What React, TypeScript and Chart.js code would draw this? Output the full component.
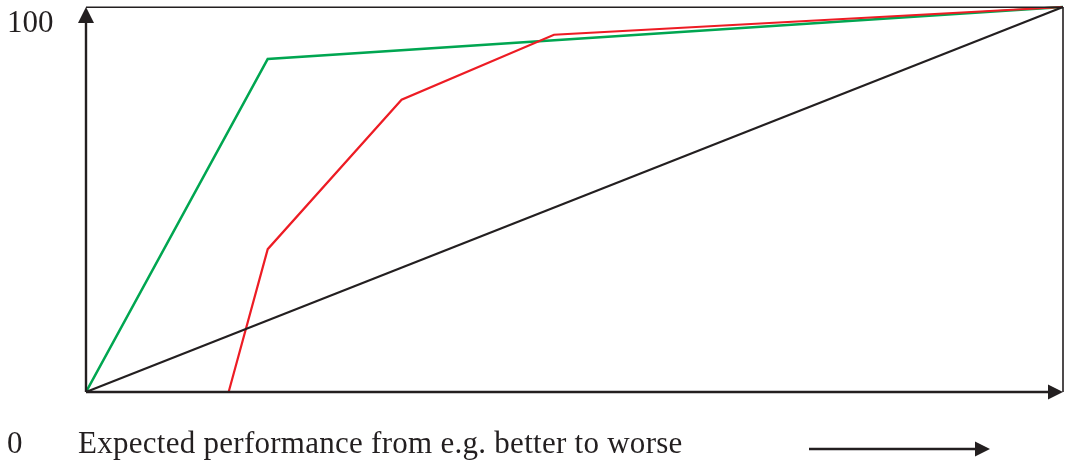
import React, { useEffect, useRef } from "react";
import { Chart, registerables } from "chart.js";

Chart.register(...registerables);

const blackX = [0, 100];
const blackY = [0, 100];
const greenX = [0, 18.6, 100];
const greenY = [0, 86.5, 100];
const redX = [14.6, 18.6, 32.3, 47.9, 100];
const redY = [0, 37.1, 75.9, 92.8, 100];

const yTopLabel = "100";
const yBottomLabel = "0";
const xLabel = "Expected performance from e.g. better to worse";

const INK = "#231f20";
const FONT = "31px 'Liberation Serif', 'Times New Roman', serif";

const pts = (xs: number[], ys: number[]) => xs.map((x, i) => ({ x, y: ys[i] }));

const decorPlugin = {
  id: "decor",
  afterDatasetsDraw(chart: any) {
    const { ctx, chartArea } = chart;
    const { left, right, top, bottom } = chartArea;
    ctx.save();
    ctx.strokeStyle = INK;
    ctx.fillStyle = INK;
    // frame top and right
    ctx.lineWidth = 1.6;
    ctx.beginPath();
    ctx.moveTo(left, top + 0.3);
    ctx.lineTo(right, top + 0.3);
    ctx.moveTo(right, top);
    ctx.lineTo(right, bottom);
    ctx.stroke();
    // axes
    ctx.lineWidth = 2.4;
    ctx.beginPath();
    ctx.moveTo(left, bottom);
    ctx.lineTo(left, top + 14);
    ctx.moveTo(left, bottom);
    ctx.lineTo(right - 14, bottom);
    ctx.stroke();
    // y arrowhead
    ctx.beginPath();
    ctx.moveTo(left, top);
    ctx.lineTo(left - 8, top + 16);
    ctx.lineTo(left + 8, top + 16);
    ctx.closePath();
    ctx.fill();
    // x arrowhead
    ctx.beginPath();
    ctx.moveTo(right, bottom);
    ctx.lineTo(right - 15, bottom - 7.5);
    ctx.lineTo(right - 15, bottom + 7.5);
    ctx.closePath();
    ctx.fill();
    // texts
    ctx.font = FONT;
    ctx.textBaseline = "alphabetic";
    ctx.textAlign = "left";
    try { (ctx as any).letterSpacing = "0px"; } catch (e) {}
    ctx.fillText(yTopLabel, 7, 32);
    ctx.fillText(yBottomLabel, 7, 453);
    try { (ctx as any).letterSpacing = "0.27px"; } catch (e) {}
    ctx.fillText(xLabel, 78, 453);
    try { (ctx as any).letterSpacing = "0px"; } catch (e) {}
    // bottom arrow
    ctx.lineWidth = 2.4;
    ctx.beginPath();
    ctx.moveTo(809, 449);
    ctx.lineTo(976, 449);
    ctx.stroke();
    ctx.beginPath();
    ctx.moveTo(990, 449);
    ctx.lineTo(975, 441.5);
    ctx.lineTo(975, 456.5);
    ctx.closePath();
    ctx.fill();
    ctx.restore();
  },
};

export default function App() {
  const ref = useRef<HTMLCanvasElement | null>(null);
  useEffect(() => {
    document.body.style.margin = "0";
    const canvas = ref.current!;
    const chart = new Chart(canvas, {
      type: "line",
      data: {
        datasets: [
          {
            label: "black",
            data: pts(blackX, blackY),
            borderColor: INK,
            borderWidth: 2.2,
            pointRadius: 0,
            tension: 0,
            clip: false as any,
          },
          {
            label: "red",
            data: pts(redX, redY),
            borderColor: "#ed1c24",
            borderWidth: 2.2,
            pointRadius: 0,
            tension: 0,
            clip: false as any,
          },
          {
            label: "green",
            data: pts(greenX, greenY),
            borderColor: "#00a651",
            borderWidth: 2.6,
            pointRadius: 0,
            tension: 0,
            clip: false as any,
          },
        ],
      },
      options: {
        animation: false,
        responsive: false,
        maintainAspectRatio: false,
        devicePixelRatio: 1,
        layout: { padding: { left: 86, right: 2, top: 7, bottom: 69 } },
        plugins: { legend: { display: false }, tooltip: { enabled: false } },
        scales: {
          x: { type: "linear", min: 0, max: 100, display: false },
          y: { type: "linear", min: 0, max: 100, display: false },
        },
      },
      plugins: [decorPlugin],
    });
    return () => chart.destroy();
  }, []);
  return (
    <div style={{ position: "absolute", left: 0, top: 0, width: 1065, height: 461, background: "#fff" }}>
      <canvas ref={ref} width={1065} height={461} style={{ width: 1065, height: 461 }} />
    </div>
  );
}
